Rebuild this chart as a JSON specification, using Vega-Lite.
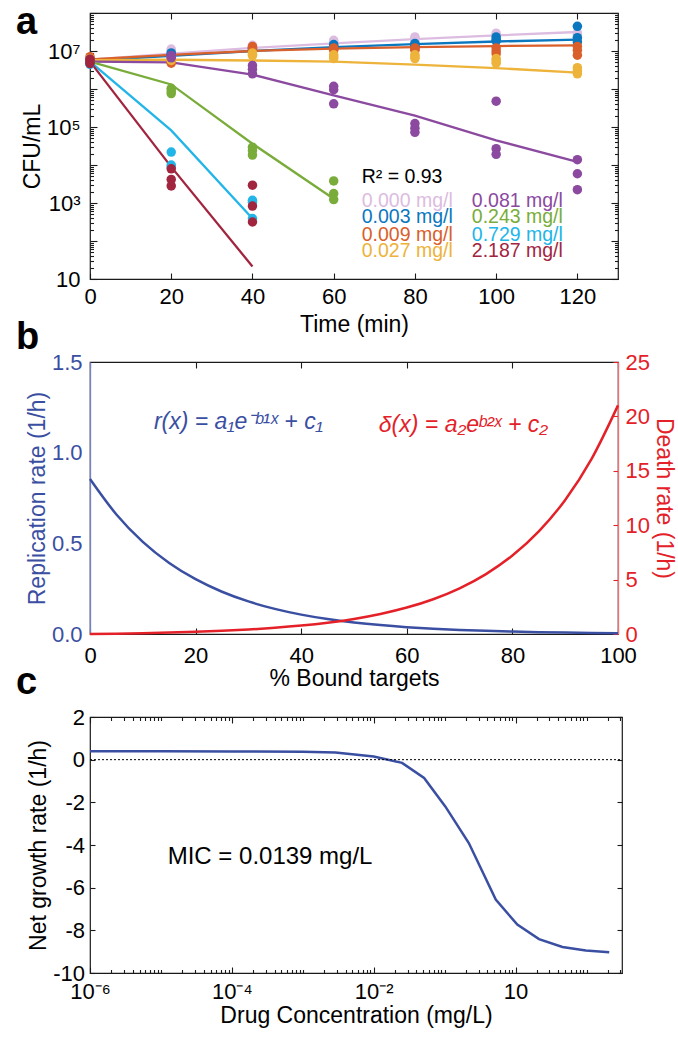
{
  "$schema": "https://vega.github.io/schema/vega-lite/v6.json",
  "padding": {"left": 15, "top": 3, "right": 0, "bottom": 0},
  "background": "white",
  "datasets": {
    "cfu": [
      {"c": "0.000 mg/l", "t": 0, "fit": 5.888e6, "r1": 6.31e6, "r2": 5.623e6, "r3": 5.248e6},
      {"c": "0.000 mg/l", "t": 20, "fit": 8.511e6, "r1": 1.122e7, "r2": 1.047e7, "r3": 9.55e6},
      {"c": "0.000 mg/l", "t": 40, "fit": 1.202e7, "r1": 1.413e7, "r2": 1.318e7, "r3": 1.202e7},
      {"c": "0.000 mg/l", "t": 60, "fit": 1.585e7, "r1": 1.905e7, "r2": 1.778e7, "r3": 1.66e7},
      {"c": "0.000 mg/l", "t": 80, "fit": 2.042e7, "r1": 2.344e7, "r2": 2.138e7, "r3": 1.995e7},
      {"c": "0.000 mg/l", "t": 100, "fit": 2.57e7, "r1": 2.951e7, "r2": 2.63e7, "r3": 2.399e7},
      {"c": "0.000 mg/l", "t": 120, "fit": 3.162e7, "r1": 3.02e7, "r2": 2.63e7, "r3": 2.291e7},
      {"c": "0.003 mg/l", "t": 0, "fit": 5.623e6, "r1": 6.026e6, "r2": 5.248e6, "r3": 4.786e6},
      {"c": "0.003 mg/l", "t": 20, "fit": 7.413e6, "r1": 8.913e6, "r2": 8.318e6, "r3": 7.586e6},
      {"c": "0.003 mg/l", "t": 40, "fit": 1e7, "r1": 1.202e7, "r2": 1.122e7, "r3": 1.047e7},
      {"c": "0.003 mg/l", "t": 60, "fit": 1.259e7, "r1": 1.479e7, "r2": 1.38e7, "r3": 1.259e7},
      {"c": "0.003 mg/l", "t": 80, "fit": 1.514e7, "r1": 1.585e7, "r2": 1.479e7, "r3": 1.38e7},
      {"c": "0.003 mg/l", "t": 100, "fit": 1.778e7, "r1": 2.344e7, "r2": 1.995e7, "r3": 1.82e7},
      {"c": "0.003 mg/l", "t": 120, "fit": 1.995e7, "r1": 4.467e7, "r2": 2.239e7, "r3": 1.738e7},
      {"c": "0.009 mg/l", "t": 0, "fit": 6.026e6, "r1": 7.079e6, "r2": 6.31e6, "r3": 6.026e6},
      {"c": "0.009 mg/l", "t": 20, "fit": 7.943e6, "r1": 5.623e6, "r2": 5.129e6, "r3": 4.786e6},
      {"c": "0.009 mg/l", "t": 40, "fit": 1e7, "r1": 1.318e7, "r2": 1.202e7, "r3": 1.047e7},
      {"c": "0.009 mg/l", "t": 60, "fit": 1.148e7, "r1": 1.202e7, "r2": 1.122e7, "r3": 1.047e7},
      {"c": "0.009 mg/l", "t": 80, "fit": 1.259e7, "r1": 1.202e7, "r2": 1.122e7, "r3": 1.047e7},
      {"c": "0.009 mg/l", "t": 100, "fit": 1.349e7, "r1": 1.202e7, "r2": 1e7, "r3": 8.511e6},
      {"c": "0.009 mg/l", "t": 120, "fit": 1.413e7, "r1": 1.318e7, "r2": 1.047e7, "r3": 7.762e6},
      {"c": "0.027 mg/l", "t": 0, "fit": 5.754e6, "r1": 6.31e6, "r2": 5.623e6, "r3": 5.012e6},
      {"c": "0.027 mg/l", "t": 20, "fit": 5.888e6, "r1": 6.607e6, "r2": 6.026e6, "r3": 5.623e6},
      {"c": "0.027 mg/l", "t": 40, "fit": 5.623e6, "r1": 8.913e6, "r2": 8.128e6, "r3": 7.586e6},
      {"c": "0.027 mg/l", "t": 60, "fit": 5.248e6, "r1": 7.943e6, "r2": 7.079e6, "r3": 6.31e6},
      {"c": "0.027 mg/l", "t": 80, "fit": 4.365e6, "r1": 7.943e6, "r2": 7.079e6, "r3": 6.31e6},
      {"c": "0.027 mg/l", "t": 100, "fit": 3.548e6, "r1": 6.31e6, "r2": 5.495e6, "r3": 4.786e6},
      {"c": "0.027 mg/l", "t": 120, "fit": 2.692e6, "r1": 3.631e6, "r2": 3.02e6, "r3": 2.512e6},
      {"c": "0.081 mg/l", "t": 0, "fit": 5.248e6, "r1": 6.026e6, "r2": 5.248e6, "r3": 4.786e6},
      {"c": "0.081 mg/l", "t": 20, "fit": 5.012e6, "r1": 7.586e6, "r2": 7.079e6, "r3": 6.607e6},
      {"c": "0.081 mg/l", "t": 40, "fit": 2.399e6, "r1": 4.169e6, "r2": 3.311e6, "r3": 2.512e6},
      {"c": "0.081 mg/l", "t": 60, "fit": 6.761e5, "r1": 1.175e6, "r2": 9.55e5, "r3": 4.074e5},
      {"c": "0.081 mg/l", "t": 80, "fit": 1.995e5, "r1": 1.23e5, "r2": 9.333e4, "r3": 7.244e4},
      {"c": "0.081 mg/l", "t": 100, "fit": 4.467e4, "r1": 4.786e5, "r2": 2.692e4, "r3": 1.905e4},
      {"c": "0.081 mg/l", "t": 120, "fit": 1.202e4, "r1": 1.38e4, "r2": 5.888e3, "r3": 2.239e3},
      {"c": "0.243 mg/l", "t": 0, "fit": 5.248e6, "r1": 5.623e6, "r2": 5.012e6, "r3": 4.786e6},
      {"c": "0.243 mg/l", "t": 20, "fit": 1.318e6, "r1": 1.047e6, "r2": 8.913e5, "r3": 7.586e5},
      {"c": "0.243 mg/l", "t": 40, "fit": 3.631e4, "r1": 2.951e4, "r2": 2.399e4, "r3": 1.82e4},
      {"c": "0.243 mg/l", "t": 60, "fit": 1.288e3, "r1": 3.802e3, "r2": 1.778e3, "r3": 1.23e3},
      {"c": "0.729 mg/l", "t": 0, "fit": 5.248e6, "r1": 5.248e6, "r2": 4.786e6, "r3": 4.467e6},
      {"c": "0.729 mg/l", "t": 20, "fit": 8.128e4, "r1": 2.188e4, "r2": 1e4, "r3": 8.913e3},
      {"c": "0.729 mg/l", "t": 40, "fit": 389, "r1": 1175, "r2": 1047, "r3": 389},
      {"c": "2.187 mg/l", "t": 0, "fit": 5.248e6, "r1": 6.026e6, "r2": 5.248e6, "r3": 4.677e6},
      {"c": "2.187 mg/l", "t": 20, "fit": 8913, "r1": 7943, "r2": 4169, "r3": 2818},
      {"c": "2.187 mg/l", "t": 40, "fit": 21.38, "r1": 2951, "r2": 831.8, "r3": 316.2}
    ],
    "legend": [
      {"c": "0.000 mg/l", "lx": 66.9, "ly": 1122},
      {"c": "0.003 mg/l", "lx": 66.9, "ly": 426.6},
      {"c": "0.009 mg/l", "lx": 66.9, "ly": 147.9},
      {"c": "0.027 mg/l", "lx": 66.9, "ly": 54.95},
      {"c": "0.081 mg/l", "lx": 94.0, "ly": 1122},
      {"c": "0.243 mg/l", "lx": 94.0, "ly": 426.6},
      {"c": "0.729 mg/l", "lx": 94.0, "ly": 147.9},
      {"c": "2.187 mg/l", "lx": 94.0, "ly": 54.95}
    ],
    "rates": [
      {"x": 0, "r": 0.855, "d": 0},
      {"x": 5, "r": 0.6593, "d": 0.032},
      {"x": 10, "r": 0.5083, "d": 0.0737},
      {"x": 15, "r": 0.3919, "d": 0.128},
      {"x": 20, "r": 0.3022, "d": 0.1988},
      {"x": 25, "r": 0.233, "d": 0.2911},
      {"x": 30, "r": 0.1796, "d": 0.4114},
      {"x": 35, "r": 0.1385, "d": 0.5683},
      {"x": 40, "r": 0.1068, "d": 0.7727},
      {"x": 45, "r": 0.0823, "d": 1.0391},
      {"x": 50, "r": 0.0635, "d": 1.3864},
      {"x": 55, "r": 0.049, "d": 1.8391},
      {"x": 60, "r": 0.0378, "d": 2.4291},
      {"x": 65, "r": 0.0291, "d": 3.1982},
      {"x": 70, "r": 0.0225, "d": 4.2006},
      {"x": 75, "r": 0.0173, "d": 5.5071},
      {"x": 80, "r": 0.0133, "d": 7.2103},
      {"x": 85, "r": 0.0103, "d": 9.43},
      {"x": 90, "r": 0.0079, "d": 12.323},
      {"x": 95, "r": 0.0061, "d": 16.095},
      {"x": 100, "r": 0.0047, "d": 21.011}
    ],
    "net": [
      {"conc": 0.000001, "g": 0.39},
      {"conc": 0.00001, "g": 0.39},
      {"conc": 0.0001, "g": 0.385},
      {"conc": 0.001, "g": 0.37},
      {"conc": 0.00288, "g": 0.34},
      {"conc": 0.01, "g": 0.15},
      {"conc": 0.0251, "g": -0.15},
      {"conc": 0.0513, "g": -0.86},
      {"conc": 0.102, "g": -2.19},
      {"conc": 0.219, "g": -3.91},
      {"conc": 0.525, "g": -6.56},
      {"conc": 1.057, "g": -7.73},
      {"conc": 2.138, "g": -8.41},
      {"conc": 4.571, "g": -8.78},
      {"conc": 9.772, "g": -8.94},
      {"conc": 20.89, "g": -9.03}
    ]
  },
  "vconcat": [
    {
      "width": 528,
      "height": 266,
      "title": {"text": "a", "dy": 34},
      "layer": [
        {
          "data": {"name": "cfu"},
          "mark": {"type": "line", "strokeWidth": 2.3},
          "encoding": {
            "x": {"field": "t", "type": "quantitative", "scale": {"domain": [0, 130], "nice": false, "zero": false},
                  "axis": {"orient": "bottom", "values": [0, 20, 40, 60, 80, 100, 120], "tickSize": -6, "labelPadding": 13, "title": "Time (min)", "titlePadding": 6}},
            "y": {"field": "fit", "type": "quantitative", "scale": {"type": "log", "domain": [10, 100000000], "nice": false},
                  "axis": {"orient": "left", "values": [10, 1000, 100000, 10000000], "tickSize": -7, "labelPadding": 17, "title": "CFU/mL", "titlePadding": 2,
                           "labelExpr": "datum.value < 20 ? '10' : datum.value < 2000 ? '10³' : datum.value < 200000 ? '10⁵' : '10⁷'"}},
            "color": {"field": "c", "type": "nominal", "legend": null,
                      "scale": {"domain": ["0.000 mg/l", "0.003 mg/l", "0.009 mg/l", "0.027 mg/l", "0.081 mg/l", "0.243 mg/l", "0.729 mg/l", "2.187 mg/l"],
                                "range": ["#DCBCE0", "#0A77BE", "#D95F2B", "#EDB33A", "#8B4A9F", "#79AC3A", "#22B5E8", "#A2253F"]}}
          }
        },
        {
          "data": {"name": "cfu"},
          "transform": [{"fold": ["r1", "r2", "r3"], "as": ["rep", "val"]}],
          "mark": {"type": "circle", "size": 90, "opacity": 1},
          "encoding": {
            "x": {"field": "t", "type": "quantitative", "axis": null},
            "y": {"field": "val", "type": "quantitative", "axis": null},
            "color": {"field": "c", "type": "nominal", "legend": null}
          }
        },
        {
          "data": {"name": "legend"},
          "mark": {"type": "text", "align": "left", "baseline": "middle", "fontSize": 19.5},
          "encoding": {
            "x": {"field": "lx", "type": "quantitative", "axis": null},
            "y": {"field": "ly", "type": "quantitative", "axis": null},
            "text": {"field": "c"},
            "color": {"field": "c", "type": "nominal", "legend": null}
          }
        },
        {
          "data": {"values": [{"lx": 66.9, "ly": 4786, "label": "R² = 0.93"}]},
          "mark": {"type": "text", "align": "left", "baseline": "middle", "fontSize": 19.5, "color": "#000"},
          "encoding": {
            "x": {"field": "lx", "type": "quantitative", "axis": null},
            "y": {"field": "ly", "type": "quantitative", "axis": null},
            "text": {"field": "label"}
          }
        },
        {
          "data": {"values": [{"t": 60, "v": 1000}]},
          "mark": {"type": "point", "opacity": 0},
          "encoding": {
            "x": {"field": "t", "type": "quantitative", "axis": {"orient": "top", "values": [0, 20, 40, 60, 80, 100, 120], "labels": false, "tickSize": -6, "title": null}},
            "y": {"field": "v", "type": "quantitative", "axis": {"orient": "left", "values": [100, 10000, 1000000, 100000000], "labels": false, "tickSize": -7, "title": null}}
          }
        },
        {
          "data": {"values": [{"t": 60, "v": 1000}]},
          "mark": {"type": "point", "opacity": 0},
          "encoding": {
            "x": {"field": "t", "type": "quantitative", "axis": null},
            "y": {"field": "v", "type": "quantitative", "axis": {"orient": "left", "labels": false, "tickSize": -3.5, "title": null,
                  "values": [20,30,40,50,60,70,80,90,200,300,400,500,600,700,800,900,2000,3000,4000,5000,6000,7000,8000,9000,20000,30000,40000,50000,60000,70000,80000,90000,200000,300000,400000,500000,600000,700000,800000,900000,2000000,3000000,4000000,5000000,6000000,7000000,8000000,9000000,20000000,30000000,40000000,50000000,60000000,70000000,80000000,90000000]}}
          }
        },
        {
          "data": {"values": [{"t": 60, "v": 1000}]},
          "mark": {"type": "point", "opacity": 0},
          "encoding": {
            "x": {"field": "t", "type": "quantitative", "axis": null},
            "y": {"field": "v", "type": "quantitative", "axis": {"orient": "right", "values": [10, 100, 1000, 10000, 100000, 1000000, 10000000, 100000000], "labels": false, "tickSize": -7, "title": null}}
          }
        },
        {
          "data": {"values": [{"t": 60, "v": 1000}]},
          "mark": {"type": "point", "opacity": 0},
          "encoding": {
            "x": {"field": "t", "type": "quantitative", "axis": null},
            "y": {"field": "v", "type": "quantitative", "axis": {"orient": "right", "labels": false, "tickSize": -3.5, "title": null,
                  "values": [20,30,40,50,60,70,80,90,200,300,400,500,600,700,800,900,2000,3000,4000,5000,6000,7000,8000,9000,20000,30000,40000,50000,60000,70000,80000,90000,200000,300000,400000,500000,600000,700000,800000,900000,2000000,3000000,4000000,5000000,6000000,7000000,8000000,9000000,20000000,30000000,40000000,50000000,60000000,70000000,80000000,90000000]}}
          }
        }
      ],
      "resolve": {"axis": {"x": "independent", "y": "independent"}}
    },
    {
      "width": 528,
      "height": 272,
      "title": {"text": "b", "dy": 10},
      "layer": [
        {
          "data": {"name": "rates"},
          "mark": {"type": "line", "strokeWidth": 2.5, "color": "#3A4FA2", "interpolate": "monotone"},
          "encoding": {
            "x": {"field": "x", "type": "quantitative", "scale": {"domain": [0, 100], "nice": false},
                  "axis": {"orient": "bottom", "values": [0, 20, 40, 60, 80, 100], "tickSize": -6, "labelPadding": 17, "title": "% Bound targets", "titlePadding": 1}},
            "y": {"field": "r", "type": "quantitative", "scale": {"domain": [0, 1.5], "nice": false},
                  "axis": {"orient": "left", "values": [0, 0.5, 1, 1.5], "format": ".1f", "ticks": false, "labelPadding": 8, "domain": true, "domainColor": "#7383C2", "domainWidth": 1.3,
                           "labelColor": "#3A4FA2", "titleColor": "#3A4FA2", "title": "Replication rate (1/h)", "titlePadding": 2}}
          }
        },
        {
          "data": {"name": "rates"},
          "mark": {"type": "line", "strokeWidth": 2.5, "color": "#E42128", "interpolate": "monotone"},
          "encoding": {
            "x": {"field": "x", "type": "quantitative", "axis": null},
            "y": {"field": "d", "type": "quantitative", "scale": {"domain": [0, 25], "nice": false},
                  "axis": {"orient": "right", "values": [0, 5, 10, 15, 20, 25], "tickSize": -5, "tickColor": "#E42128", "labelPadding": 12, "domain": true, "domainColor": "#EE7373", "domainWidth": 1.3,
                           "labelColor": "#E42128", "titleColor": "#E42128", "title": "Death rate (1/h)", "titlePadding": 2}}
          }
        },
        {
          "data": {"values": [{"fx": 12.1, "fy": 1.169, "label": "r(x) = a₁e⁻ᵇ¹ˣ + c₁"}]},
          "mark": {"type": "text", "align": "left", "baseline": "middle", "fontSize": 23, "fontStyle": "italic", "color": "#3A4FA2"},
          "encoding": {
            "x": {"field": "fx", "type": "quantitative", "axis": null},
            "y": {"field": "fy", "type": "quantitative", "scale": {"domain": [0, 1.5], "nice": false}, "axis": null},
            "text": {"field": "label"}
          }
        },
        {
          "data": {"values": [{"fx": 54.7, "fy": 19.2, "label": "δ(x) = a₂eᵇ²ˣ + c₂"}]},
          "mark": {"type": "text", "align": "left", "baseline": "middle", "fontSize": 23, "fontStyle": "italic", "color": "#E42128"},
          "encoding": {
            "x": {"field": "fx", "type": "quantitative", "axis": null},
            "y": {"field": "fy", "type": "quantitative", "scale": {"domain": [0, 25], "nice": false}, "axis": null},
            "text": {"field": "label"}
          }
        },
        {
          "data": {"values": [{"fx": 50, "fy": 0.5}]},
          "mark": {"type": "point", "opacity": 0},
          "encoding": {
            "x": {"field": "fx", "type": "quantitative", "axis": {"orient": "top", "values": [0, 20, 40, 60, 80, 100], "labels": false, "tickSize": -6, "title": null}},
            "y": {"field": "fy", "type": "quantitative", "scale": {"domain": [0, 1.5], "nice": false}, "axis": null}
          }
        }
      ],
      "resolve": {"scale": {"y": "independent"}, "axis": {"x": "independent", "y": "independent"}}
    },
    {
      "width": 532,
      "height": 256,
      "title": {"text": "c", "dy": 0},
      "layer": [
        {
          "data": {"name": "net"},
          "mark": {"type": "line", "strokeWidth": 2.5, "color": "#3A4FA2"},
          "encoding": {
            "x": {"field": "conc", "type": "quantitative", "scale": {"type": "log", "domain": [0.000001, 31.62], "nice": false},
                  "axis": {"orient": "bottom", "values": [0.000001, 0.0001, 0.01, 1], "tickSize": -6, "labelPadding": 14, "title": "Drug Concentration (mg/L)", "titlePadding": 2,
                           "labelExpr": "datum.value < 0.000002 ? '10⁻⁶' : datum.value < 0.0002 ? '10⁻⁴' : datum.value < 0.02 ? '10⁻²' : '10'"}},
            "y": {"field": "g", "type": "quantitative", "scale": {"domain": [-10, 2], "nice": false, "zero": false},
                  "axis": {"orient": "left", "values": [2, 0, -2, -4, -6, -8, -10], "tickSize": -5, "labelPadding": 10.5, "labelExpr": "'' + datum.value", "title": "Net growth rate (1/h)", "titlePadding": 2}}
          }
        },
        {
          "data": {"values": [{"x1": 0.000001, "x2": 31.62, "z": 0}]},
          "mark": {"type": "rule", "strokeDash": [2, 2], "strokeWidth": 1, "color": "#000"},
          "encoding": {
            "x": {"field": "x1", "type": "quantitative", "axis": null},
            "x2": {"field": "x2"},
            "y": {"field": "z", "type": "quantitative", "axis": null}
          }
        },
        {
          "data": {"values": [{"mx": 0.00001245, "my": -4.55, "label": "MIC = 0.0139 mg/L"}]},
          "mark": {"type": "text", "align": "left", "baseline": "middle", "fontSize": 24, "color": "#000"},
          "encoding": {
            "x": {"field": "mx", "type": "quantitative", "axis": null},
            "y": {"field": "my", "type": "quantitative", "axis": null},
            "text": {"field": "label"}
          }
        },
        {
          "data": {"values": [{"mx": 0.001, "my": -4}]},
          "mark": {"type": "point", "opacity": 0},
          "encoding": {
            "x": {"field": "mx", "type": "quantitative", "axis": {"orient": "bottom", "labels": false, "tickSize": -3.5, "title": null,
                  "values": [0.000002,0.000003,0.000004,0.000005,0.000006,0.000007,0.000008,0.000009,0.00001,0.00002,0.00003,0.00004,0.00005,0.00006,0.00007,0.00008,0.00009,0.0002,0.0003,0.0004,0.0005,0.0006,0.0007,0.0008,0.0009,0.001,0.002,0.003,0.004,0.005,0.006,0.007,0.008,0.009,0.02,0.03,0.04,0.05,0.06,0.07,0.08,0.09,0.1,0.2,0.3,0.4,0.5,0.6,0.7,0.8,0.9,2,3,4,5,6,7,8,9,10,20,30]}},
            "y": {"field": "my", "type": "quantitative", "axis": {"orient": "right", "values": [2, 0, -2, -4, -6, -8, -10], "labels": false, "tickSize": -5, "title": null}}
          }
        },
        {
          "data": {"values": [{"mx": 0.001, "my": -4}]},
          "mark": {"type": "point", "opacity": 0},
          "encoding": {
            "x": {"field": "mx", "type": "quantitative", "axis": {"orient": "top", "values": [0.000001, 0.0001, 0.01, 1], "labels": false, "tickSize": -6, "title": null}},
            "y": {"field": "my", "type": "quantitative", "axis": null}
          }
        },
        {
          "data": {"values": [{"mx": 0.001, "my": -4}]},
          "mark": {"type": "point", "opacity": 0},
          "encoding": {
            "x": {"field": "mx", "type": "quantitative", "axis": {"orient": "top", "labels": false, "tickSize": -3.5, "title": null,
                  "values": [0.000002,0.000003,0.000004,0.000005,0.000006,0.000007,0.000008,0.000009,0.00001,0.00002,0.00003,0.00004,0.00005,0.00006,0.00007,0.00008,0.00009,0.0002,0.0003,0.0004,0.0005,0.0006,0.0007,0.0008,0.0009,0.001,0.002,0.003,0.004,0.005,0.006,0.007,0.008,0.009,0.02,0.03,0.04,0.05,0.06,0.07,0.08,0.09,0.1,0.2,0.3,0.4,0.5,0.6,0.7,0.8,0.9,2,3,4,5,6,7,8,9,10,20,30]}},
            "y": {"field": "my", "type": "quantitative", "axis": null}
          }
        }
      ],
      "resolve": {"axis": {"x": "independent", "y": "independent"}}
    }
  ],
  "spacing": 83,
  "bounds": "flush",
  "config": {
    "font": "Liberation Sans",
    "view": {"stroke": "#1a1a1a", "strokeWidth": 1.2},
    "axis": {"domain": false, "grid": false, "tickColor": "#1a1a1a", "tickWidth": 1.1, "labelColor": "#000", "titleColor": "#000",
             "labelFont": "Liberation Sans", "titleFont": "Liberation Sans", "labelFontSize": 22, "titleFontSize": 23, "titleFontWeight": "normal", "labelFlush": false, "labelOverlap": false},
    "title": {"anchor": "start", "frame": "group", "fontSize": 38, "fontWeight": "bold", "baseline": "top", "offset": 0, "dx": -74, "color": "#000", "font": "Liberation Sans"}
  }
}
